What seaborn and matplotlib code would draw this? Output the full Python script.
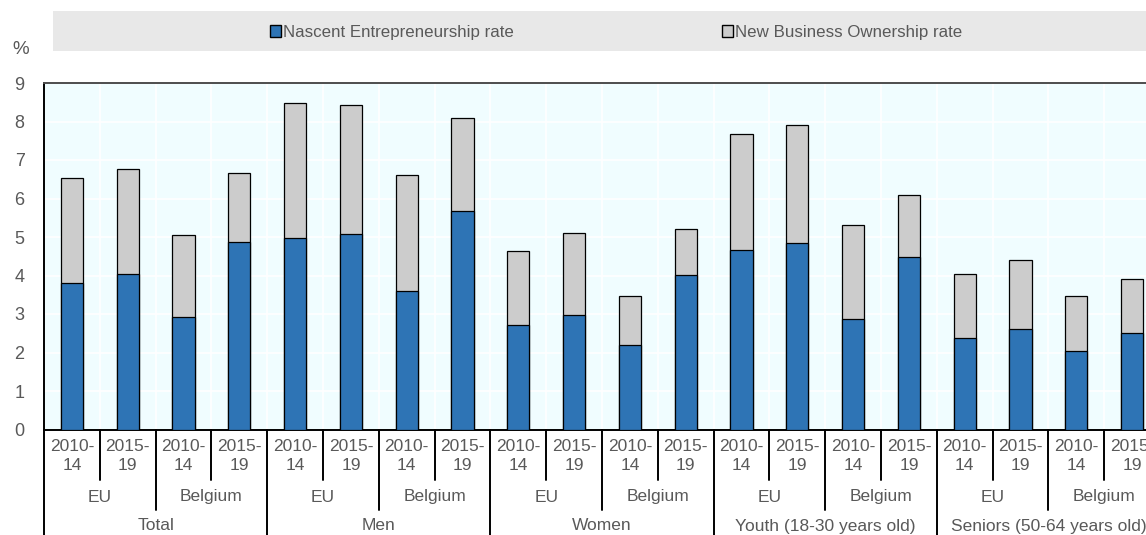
import matplotlib
matplotlib.use("Agg")
import matplotlib.pyplot as plt
import matplotlib.transforms as mtransforms
from matplotlib.patches import Rectangle, Patch
import pandas as pd
import seaborn as sns

# ---- data -------------------------------------------------------------
groups = ["Total", "Men", "Women", "Youth (18-30 years old)", "Seniors (50-64 years old)"]
regions = ["EU", "Belgium"]
periods = ["2010-\n14", "2015-\n19"]

nascent = [3.81, 4.03, 2.91, 4.86,
           4.97, 5.09, 3.59, 5.68,
           2.71, 2.98, 2.20, 4.01,
           4.67, 4.85, 2.87, 4.47,
           2.38, 2.60, 2.04, 2.51]
new_business = [2.71, 2.73, 2.15, 1.79,
                3.51, 3.33, 3.02, 2.41,
                1.92, 2.13, 1.27, 1.19,
                3.01, 3.05, 2.45, 1.63,
                1.67, 1.81, 1.43, 1.41]

series_names = ["Nascent Entrepreneurship rate", "New Business Ownership rate"]
yticks = list(range(0, 10))

# ---- table ------------------------------------------------------------
rows = []
for g in groups:
    for r in regions:
        for p in periods:
            rows.append((g, r, p))
df = pd.DataFrame(rows, columns=["group", "region", "period"])
df["key"] = df["group"] + "|" + df["region"] + "|" + df["period"]
df["nascent"] = nascent
df["new_business"] = new_business
df["total"] = df["nascent"] + df["new_business"]
order = list(df["key"])

# ---- style ------------------------------------------------------------
sns.set_theme(style="white")
plt.rcParams["font.family"] = ["Liberation Sans", "DejaVu Sans"]
text_color = "#595959"
blue = "#2E74B5"
grey = "#CCCCCC"
bg = "#F0FDFF"
fs = 12.2

W, H = 1146, 535
fig = plt.figure(figsize=(W / 100, H / 100), dpi=100)
ax_left, ax_right, ax_bottom, ax_top = 44, 1160, 429.5, 83
ax = fig.add_axes([ax_left / W, (H - ax_bottom) / H,
                   (ax_right - ax_left) / W, (ax_bottom - ax_top) / H])
ax.set_facecolor(bg)

# stacked bars: total underneath, nascent share on top of it
sns.barplot(data=df, x="key", y="total", order=order, color=grey,
            width=0.4, edgecolor="black", linewidth=0.9, saturation=1,
            ax=ax, zorder=3)
sns.barplot(data=df, x="key", y="nascent", order=order, color=blue,
            width=0.4, edgecolor="black", linewidth=0.9, saturation=1,
            ax=ax, zorder=4)

n = len(order)
ax.set_xlim(-0.5, n - 0.5)
ax.set_ylim(0, 9)
ax.set_yticks(yticks)
ax.set_xticks([i + 0.5 for i in range(n - 1)])
ax.set_xticklabels([])
ax.set_xlabel("")
ax.set_ylabel("")

# white grid lines inside the plot area
for y in yticks[1:]:
    ax.axhline(y, color="white", lw=1.2, zorder=1)
for i in range(n - 1):
    ax.axvline(i + 0.5, color="white", lw=1.2, zorder=1)

ax.tick_params(axis="y", direction="in", length=5, width=1.2, color="black",
               labelsize=13, labelcolor=text_color, pad=14)
ax.tick_params(axis="x", direction="in", length=6, width=1.2, color="black")

for side in ["left", "bottom"]:
    ax.spines[side].set_color("black")
    ax.spines[side].set_linewidth(1.4)
ax.spines["top"].set_color("#4D4D4D")
ax.spines["top"].set_linewidth(1.4)
ax.spines["right"].set_visible(False)

# ---- hierarchical category axis ---------------------------------------
trans = mtransforms.blended_transform_factory(ax.transData, ax.transAxes)
hpx = ax_bottom - ax_top
def ay(py):
    return -(py - ax_bottom) / hpx

row1_end, row2_end, row3_end = ay(480), ay(510), ay(H + 2)
for i in range(n + 1):
    x = i - 0.5
    if i % 4 == 0:
        y_end = row3_end
    elif i % 2 == 0:
        y_end = row2_end
    else:
        y_end = row1_end
    ax.plot([x, x], [0, y_end], color="black", lw=1.4, transform=trans,
            clip_on=False, zorder=5)

for i, p in enumerate(df["period"]):
    ax.text(i, ay(456), p, transform=trans, ha="center", va="center",
            fontsize=fs + 0.3, color=text_color, linespacing=1.3)
for j in range(n // 2):
    ax.text(2 * j + 0.5, ay(497), df["region"].iloc[2 * j], transform=trans,
            ha="center", va="center", fontsize=fs + 0.3, color=text_color)
for k, g in enumerate(groups):
    ax.text(4 * k + 1.5, ay(526), g, transform=trans, ha="center",
            va="center", fontsize=fs + 0.3, color=text_color)

# ---- unit label and legend band ---------------------------------------
fig.text(21 / W, 1 - 50 / H, "%", ha="center", va="center",
         fontsize=13.5, color=text_color)
fig.patches.append(Rectangle((53 / W, 1 - 51 / H), 1.2, 40 / H,
                             transform=fig.transFigure, facecolor="#E8E8E8",
                             edgecolor="none", zorder=0))
handles = [Patch(facecolor=blue, edgecolor="black", linewidth=1.0),
           Patch(facecolor=grey, edgecolor="black", linewidth=1.0)]
fig.legend(handles, series_names, loc="center left",
           bbox_to_anchor=(270 / W, 1 - 32.5 / H), ncol=2, frameon=False,
           handlelength=0.65, handleheight=0.65, handletextpad=0.13,
           columnspacing=12.25, fontsize=fs, labelcolor=text_color,
           borderaxespad=0, borderpad=0)

fig.savefig("out.png", dpi=100)
